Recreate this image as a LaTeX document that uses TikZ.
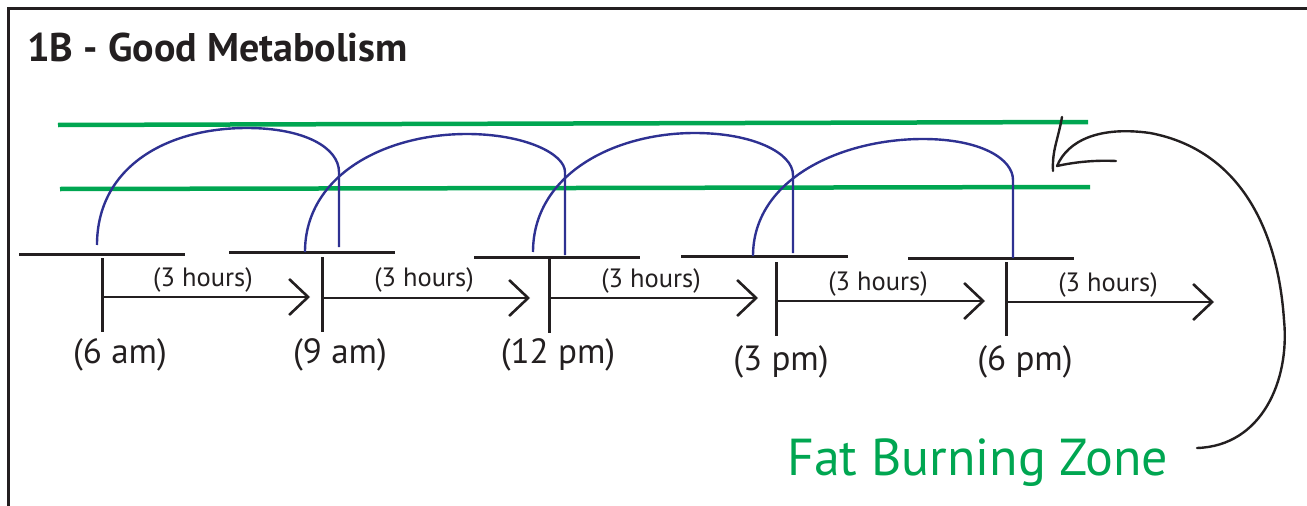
\documentclass[tikz,border=0pt]{standalone}
\usepackage{fontspec}
\setmainfont{PT Sans}
\usetikzlibrary{arrows.meta}
\definecolor{ink}{HTML}{231F20}
\definecolor{zonegreen}{HTML}{00A651}
\definecolor{arcblue}{HTML}{2E3192}
\begin{document}
\begin{tikzpicture}[x=1pt,y=-1pt,
  frameline/.style={draw=ink,line width=3pt},
  tbar/.style={draw=ink,line width=3pt},
  tick/.style={draw=ink,line width=3pt},
  span/.style={draw=ink,line width=2.6pt,-{Straight Barb[length=19pt,width=36pt,line width=2.6pt]}},
  zone/.style={draw=zonegreen,line width=4.5pt},
  meal/.style={draw=arcblue,line width=2.4pt},
  hrs/.style={inner sep=0pt,font=\fontsize{26.5}{28}\selectfont,text=ink},
  clock/.style={inner sep=0pt,font=\fontsize{35}{38}\selectfont,text=ink},
  hand/.style={draw=ink,line width=2.4pt,line cap=round}]
\useasboundingbox (0,0) rectangle (1307,506);
% frame
\coordinate (fbl) at (8,530);
\coordinate (ftl) at (8,8);
\coordinate (ftr) at (1320,8);
\draw[frameline] (fbl) -- (ftl) -- (ftr);
% title
\node[anchor=base west,inner sep=0pt,font=\fontsize{40}{44}\selectfont\bfseries,text=ink] (title) at (27,61) {1B - Good Metabolism};
% green zone lines
\coordinate (ga) at (58,125); \coordinate (gb) at (1088,122);
\coordinate (gc) at (60,189); \coordinate (gd) at (1090,187);
\draw[zone] (ga) -- (gb);
\draw[zone] (gc) -- (gd);
% T bars
\foreach \n/\xa/\xb/\y in {1/19/185/254,2/229/395/252,3/474/640/257,4/681/848/256,5/908/1074/258}{
  \coordinate (bl\n) at (\xa,\y); \coordinate (br\n) at (\xb,\y);
  \draw[tbar] (bl\n) -- (br\n);
}
% ticks and spans
\foreach \n/\x/\ya/\yb/\ys/\tip in {1/102/258/332/297/310,2/322/257/332/298/530,3/549/258/333/298/758,4/776/262/336/301/985,5/1006/262/336/302/1214}{
  \coordinate (tt\n) at (\x,\ya); \coordinate (tb\n) at (\x,\yb);
  \coordinate (ss\n) at (\x,\ys); \coordinate (se\n) at (\tip,\ys);
  \draw[tick] (tt\n) -- (tb\n);
  \draw[span] (ss\n) -- (se\n);
}
% hour labels
\node[hrs] (h1) at (203,280) {(3 hours)};
\node[hrs] (h2) at (424,280) {(3 hours)};
\node[hrs] (h3) at (651,281) {(3 hours)};
\node[hrs] (h4) at (878,284) {(3 hours)};
\node[hrs] (h5) at (1108,285) {(3 hours)};
% clock labels
\node[clock] (c1) at (120,355) {(6 am)};
\node[clock] (c2) at (340,355) {(9 am)};
\node[clock] (c3) at (558,355) {(12 pm)};
\node[clock] (c4) at (781,362) {(3 pm)};
\node[clock] (c5) at (1025,362) {(6 pm)};
% blue arcs
\foreach \n/\xs/\ys/\xp/\yp/\xe/\yv/\yb in {1/97/245/247/128/339/172/247,2/305/252/467/134/565/172/255,3/533/252/695/133/793/175/253,4/753/256/923/139/1013/180/258}{
  \coordinate (as\n) at (\xs,\ys); \coordinate (ap\n) at (\xp,\yp);
  \coordinate (av\n) at (\xe,\yv); \coordinate (ab\n) at (\xe,\yb);
  \draw[meal] (as\n) .. controls (\xs,\ys-77) and (\xp-82,\yp) .. (ap\n)
     .. controls (\xp+58,\yp) and (\xe,\yp+20) .. (av\n) -- (ab\n);
}
% fat burning zone label
\node[anchor=base west,inner sep=0pt,text=zonegreen] (fbz) at (787,475) {\resizebox{381pt}{!}{\fontsize{40}{44}\selectfont Fat Burning Zone}};
% curved pointer
\coordinate (ps) at (1197,448);
\coordinate (ptip) at (1057,166);
\coordinate (ptail) at (1116,161);
\coordinate (pva) at (1062,117);
\coordinate (pvb) at (1053,171);
\draw[hand] (ps) .. controls (1262,446) and (1290,380) .. (1284,320)
  .. controls (1278,230) and (1240,150) .. (1150,133)
  .. controls (1100,126) and (1068,140) .. (ptip);
\draw[hand] (ptip) .. controls (1075,162) and (1095,160) .. (ptail);
\draw[hand] (pva) .. controls (1058,140) and (1052,150) .. (pvb);
\end{tikzpicture}
\end{document}
